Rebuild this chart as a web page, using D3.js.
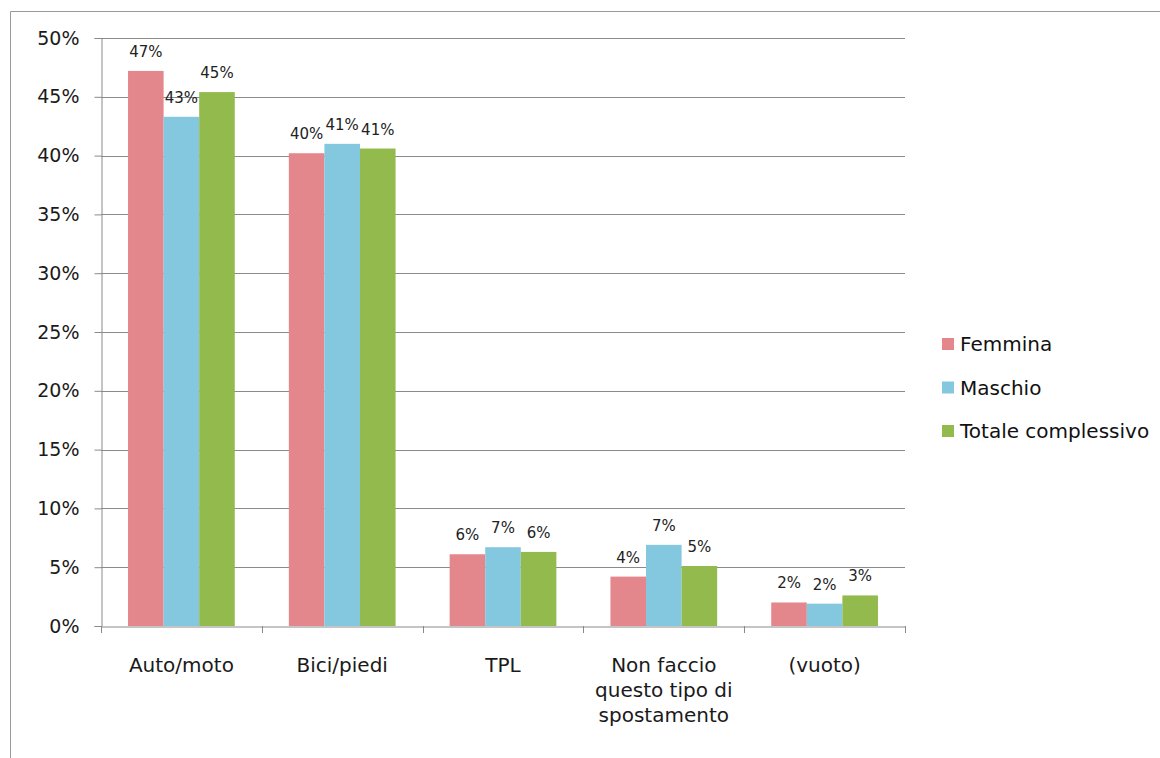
<!DOCTYPE html>
<html>
<head>
<meta charset="utf-8">
<script src="https://cdn.jsdelivr.net/npm/d3@7"></script>
<style>
  html, body { margin: 0; padding: 0; background: #fff; }
  svg { display: block; }
  text { font-family: "DejaVu Sans", "Liberation Sans", sans-serif; }
</style>
</head>
<body>
<svg id="chart" width="1160" height="758"></svg>
<script>
// Travel mode by gender (share of respondents)
const categories = ["Auto/moto", "Bici/piedi", "TPL", "Non faccio questo tipo di spostamento", "(vuoto)"];
const categoryLines = [["Auto/moto"], ["Bici/piedi"], ["TPL"], ["Non faccio", "questo tipo di", "spostamento"], ["(vuoto)"]];
const seriesNames = ["Femmina", "Maschio", "Totale complessivo"];
const femmina = [0.472, 0.402, 0.061, 0.042, 0.020];
const maschio = [0.433, 0.410, 0.067, 0.069, 0.019];
const totale  = [0.454, 0.406, 0.063, 0.051, 0.026];
const yTicks = [0, 0.05, 0.10, 0.15, 0.20, 0.25, 0.30, 0.35, 0.40, 0.45, 0.50];
const colors = ["#e3878c", "#84c8e0", "#93ba4c"];

const series = [femmina, maschio, totale];
const svg = d3.select("#chart");

// outer chart frame
svg.append("path")
  .attr("d", "M10.5,758 V11.5 H1160")
  .attr("fill", "none").attr("stroke", "#9a9a9a").attr("stroke-width", 1);

const plotLeft = 101, plotRight = 905, plotTop = 38, plotBottom = 626;

const x = d3.scaleBand().domain(categories).range([plotLeft, plotRight]).paddingInner(0).paddingOuter(0);
const inner = d3.scaleBand().domain(seriesNames).range([0, x.bandwidth()]).paddingOuter(0.76).paddingInner(0);
const y = d3.scaleLinear().domain([0, 0.5]).range([plotBottom, plotTop]);
const pct = d3.format(".0%");

// gridlines
svg.append("g").selectAll("line").data(yTicks.filter(d => d > 0)).join("line")
  .attr("x1", plotLeft).attr("x2", plotRight)
  .attr("y1", d => Math.round(y(d)) + 0.5).attr("y2", d => Math.round(y(d)) + 0.5)
  .attr("stroke", "#8a8a8a").attr("stroke-width", 1);

// y axis
const yAxis = d3.axisLeft(y).tickValues(yTicks).tickFormat(pct).tickSize(7).tickPadding(15);
const gy = svg.append("g").attr("transform", `translate(${plotLeft + 0.5},0)`).call(yAxis);
gy.select(".domain").attr("stroke", "#8a8a8a");
gy.selectAll(".tick line").attr("stroke", "#8a8a8a");
gy.selectAll(".tick text").attr("font-size", 19).attr("fill", "#1a1a1a")
  .attr("font-family", "'DejaVu Sans', sans-serif");

// bars and value labels
series.forEach((vals, si) => {
  svg.append("g").selectAll("rect").data(vals).join("rect")
    .attr("x", (d, i) => x(categories[i]) + inner(seriesNames[si]))
    .attr("width", inner.bandwidth())
    .attr("y", d => y(d))
    .attr("height", d => y(0) - y(d))
    .attr("fill", colors[si]);
  svg.append("g").selectAll("text").data(vals).join("text")
    .attr("x", (d, i) => x(categories[i]) + inner(seriesNames[si]) + inner.bandwidth() / 2)
    .attr("y", d => y(d) - 14)
    .attr("text-anchor", "middle")
    .attr("font-size", 15).attr("fill", "#222")
    .text(d => pct(d));
});

// x axis
const xAxis = d3.axisBottom(x).tickSize(0).tickFormat("");
const gx = svg.append("g").attr("transform", `translate(0,${plotBottom + 0.5})`).call(xAxis);
gx.select(".domain").attr("stroke", "#8a8a8a");
svg.append("g").selectAll("line").data(categories.concat(["end"])).join("line")
  .attr("x1", (d, i) => Math.round(plotLeft + i * x.step()) + 0.5)
  .attr("x2", (d, i) => Math.round(plotLeft + i * x.step()) + 0.5)
  .attr("y1", plotBottom).attr("y2", plotBottom + 7)
  .attr("stroke", "#8a8a8a");

const labels = svg.append("g");
categoryLines.forEach((lines, i) => {
  const cx = x(categories[i]) + x.bandwidth() / 2;
  const t = labels.append("text")
    .attr("x", cx)
    .attr("y", 672)
    .attr("text-anchor", "middle")
    .attr("font-size", 20).attr("fill", "#1a1a1a");
  lines.forEach((ln, k) => {
    t.append("tspan").attr("x", cx).attr("dy", k === 0 ? 0 : 25).text(ln);
  });
});

// legend
const legend = svg.append("g").attr("transform", "translate(942,344)");
seriesNames.forEach((name, i) => {
  const g = legend.append("g").attr("transform", `translate(0,${i * 43.5})`);
  g.append("rect").attr("x", 0).attr("y", -6).attr("width", 12).attr("height", 12).attr("fill", colors[i]);
  g.append("text").attr("x", 18).attr("y", 7).attr("font-size", 20).attr("fill", "#111").text(name);
});
</script>
</body>
</html>
